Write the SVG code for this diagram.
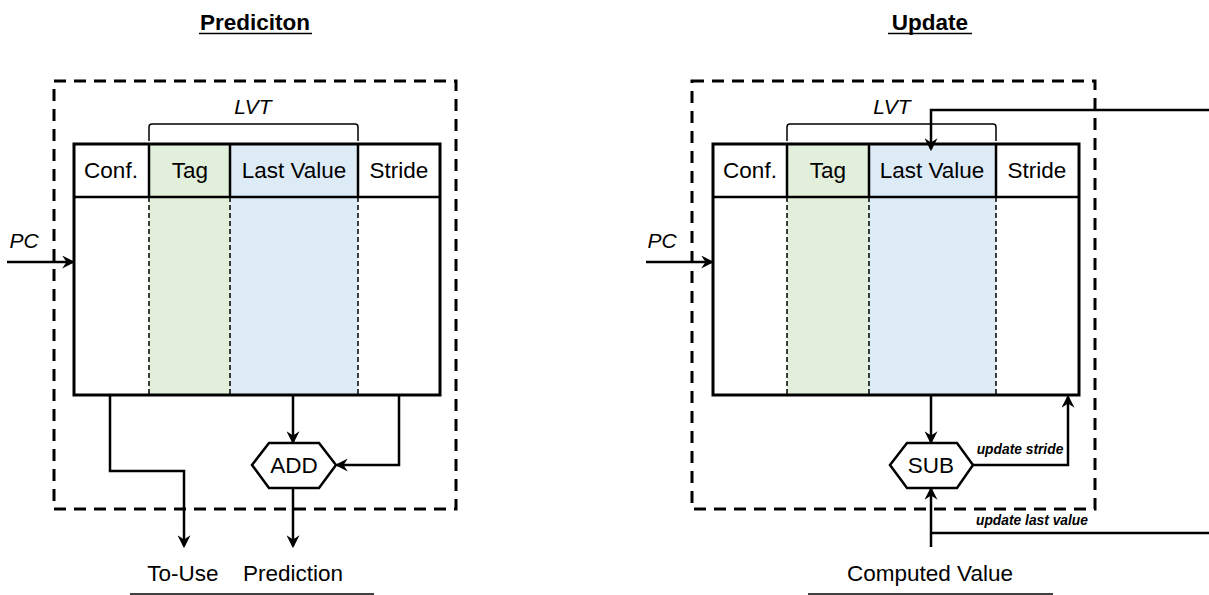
<svg xmlns="http://www.w3.org/2000/svg" width="1209" height="595" viewBox="0 0 1209 595">
<style>
.t{font-family:"Liberation Sans",Arial,sans-serif;fill:#000}
.h{font-size:22.5px;text-anchor:middle}
.ti{font-size:22.5px;font-weight:bold;text-anchor:middle}
.it{font-size:21px;font-style:italic;text-anchor:middle}
.sm{font-size:13.8px;font-style:italic;font-weight:bold;text-anchor:middle}
.dash{fill:none;stroke:#000;stroke-width:3;stroke-dasharray:12 8}
.tbl{fill:none;stroke:#000;stroke-width:3}
.cd{stroke:#000;stroke-width:1.5;stroke-dasharray:5 3}
.ln{fill:none;stroke:#000;stroke-width:2.5}
.w{fill:none;stroke:#000;stroke-width:2.5;marker-end:url(#ah)}
.br{fill:none;stroke:#000;stroke-width:1.5}
.hex{fill:#fff;stroke:#000;stroke-width:2.5}
</style>
<defs>
<marker id="ah" markerWidth="13" markerHeight="13" viewBox="0 0 12 12" refX="10" refY="6" orient="auto" markerUnits="userSpaceOnUse">
<path d="M0,0 L12,6 L0,12 L4,6 z" fill="#000"/>
</marker>
</defs>
<rect width="1209" height="595" fill="#fff"/>

<!-- LEFT PANEL -->
<g id="title-prediction">
<text class="t ti" x="255" y="30">Prediciton</text>
<line x1="199" y1="33.5" x2="312" y2="33.5" stroke="#000" stroke-width="1.5"/>
</g>
<g id="box-prediction"><rect class="dash" x="54" y="81" width="402" height="428"/></g>
<g id="lvt-left">
<text class="t it" x="253" y="114">LVT</text>
<path class="br" d="M149,141 V127 Q149,124 152,124 H355 Q358,124 358,127 V141"/>
</g>
<g id="table-left">
<rect x="149" y="144" width="81" height="251" fill="#E2EFDA"/>
<rect x="230" y="144" width="128" height="251" fill="#DDEBF7"/>
<line class="cd" x1="149" y1="197" x2="149" y2="395"/>
<line class="cd" x1="230" y1="197" x2="230" y2="395"/>
<line class="cd" x1="358" y1="197" x2="358" y2="395"/>
<line class="ln" x1="149" y1="144" x2="149" y2="197"/>
<line class="ln" x1="230" y1="144" x2="230" y2="197"/>
<line class="ln" x1="358" y1="144" x2="358" y2="197"/>
<line class="ln" x1="74" y1="197" x2="440" y2="197"/>
<rect class="tbl" x="74" y="144" width="366" height="251"/>
<text class="t h" x="111" y="178">Conf.</text>
<text class="t h" x="190" y="178">Tag</text>
<text class="t h" x="294" y="178">Last Value</text>
<text class="t h" x="399" y="178">Stride</text>
</g>
<g id="add">
<polygon class="hex" points="252,465 269,443 319,443 336,465 319,488 269,488"/>
<text class="t h" x="294" y="473">ADD</text>
</g>
<g id="labels-left">
<text class="t it" x="24" y="248">PC</text>
<text class="t h" x="183" y="581">To-Use</text>
<text class="t h" x="293" y="581">Prediction</text>
<line x1="130" y1="594" x2="374" y2="594" stroke="#000" stroke-width="1.5"/>
</g>

<!-- RIGHT PANEL -->
<g id="title-update">
<text class="t ti" x="930" y="30">Update</text>
<line x1="888" y1="33.5" x2="972" y2="33.5" stroke="#000" stroke-width="1.5"/>
</g>
<g id="box-update"><rect class="dash" x="692" y="81" width="403" height="428"/></g>
<g id="lvt-right">
<text class="t it" x="892" y="114">LVT</text>
<path class="br" d="M787,141 V127 Q787,124 790,124 H993 Q996,124 996,127 V141"/>
</g>
<g id="table-right">
<rect x="787" y="144" width="82" height="251" fill="#E2EFDA"/>
<rect x="869" y="144" width="127" height="251" fill="#DDEBF7"/>
<line class="cd" x1="787" y1="197" x2="787" y2="395"/>
<line class="cd" x1="869" y1="197" x2="869" y2="395"/>
<line class="cd" x1="996" y1="197" x2="996" y2="395"/>
<line class="ln" x1="787" y1="144" x2="787" y2="197"/>
<line class="ln" x1="869" y1="144" x2="869" y2="197"/>
<line class="ln" x1="996" y1="144" x2="996" y2="197"/>
<line class="ln" x1="713" y1="197" x2="1079" y2="197"/>
<rect class="tbl" x="713" y="144" width="366" height="251"/>
<text class="t h" x="750" y="178">Conf.</text>
<text class="t h" x="828" y="178">Tag</text>
<text class="t h" x="932" y="178">Last Value</text>
<text class="t h" x="1037" y="178">Stride</text>
</g>
<g id="sub">
<polygon class="hex" points="890,465 907,443 957,443 973,465 957,488 907,488"/>
<text class="t h" x="931" y="473">SUB</text>
</g>
<g id="labels-right">
<text class="t it" x="662" y="248">PC</text>
<text class="t sm" x="1020" y="454">update stride</text>
<text class="t sm" x="1032" y="525">update last value</text>
<text class="t h" x="930" y="581">Computed Value</text>
<line x1="808" y1="594" x2="1053" y2="594" stroke="#000" stroke-width="1.5"/>
</g>

<g id="connectors">
<line class="w" x1="7" y1="262" x2="73" y2="262"/>
<polyline class="w" points="110,395 110,471 184,471 184,546"/>
<line class="w" x1="293" y1="395" x2="293" y2="442"/>
<polyline class="w" points="399,395 399,465 337,465"/>
<line class="w" x1="293" y1="488" x2="293" y2="546"/>

<line class="w" x1="646" y1="262" x2="712" y2="262"/>
<polyline class="w" points="1209,110 931,110 931,149"/>
<line class="w" x1="931" y1="395" x2="931" y2="442"/>
<polyline class="w" points="973,465 1068,465 1068,397"/>
<line class="w" x1="931" y1="547" x2="931" y2="489"/>
<polyline class="ln" points="931,533 1209,533"/>
</g>
</svg>
